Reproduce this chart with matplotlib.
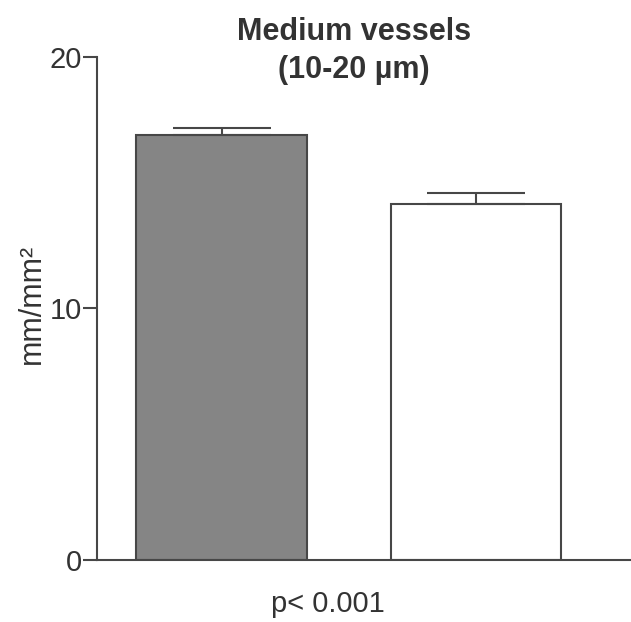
import matplotlib
matplotlib.use("Agg")
import matplotlib.pyplot as plt

# Data
groups = ["Group A", "Group B"]
means = [16.9, 14.15]
sem_upper = [0.28, 0.44]
bar_colors = ["#858585", "#ffffff"]
y_ticks = [0, 10, 20]
title_text = "Medium vessels\n(10-20 µm)"
y_label = "mm/mm²"
p_text = "p< 0.001"

plt.rcParams['font.family'] = ['Liberation Sans', 'DejaVu Sans']
text_col = '#333333'
line_col = '#474747'

fig = plt.figure(figsize=(6.31, 6.22), dpi=100)
ax = fig.add_axes([0.1537, 0.0997, 0.8463, 0.8087])

xpos = list(range(len(groups)))
ax.bar(xpos, means, width=0.67, color=bar_colors, edgecolor=line_col,
       linewidth=1.5, zorder=2)
ax.errorbar(xpos, means, yerr=[[0] * len(means), sem_upper], fmt='none',
            ecolor=line_col, elinewidth=1.5, capsize=35, capthick=1.5, zorder=3)

ax.set_xlim(-0.49, 1.61)
ax.set_ylim(0, 20)
ax.set_yticks(y_ticks)
ax.set_yticklabels([str(v) for v in y_ticks], fontsize=21, color=text_col)
ax.set_xticks([])

for side in ['top', 'right']:
    ax.spines[side].set_visible(False)
for side in ['left', 'bottom']:
    ax.spines[side].set_color(line_col)
    ax.spines[side].set_linewidth(1.5)
ax.tick_params(axis='y', direction='out', length=10, width=1.5, color=line_col, pad=1)

# labels / title as figure text
fig.text(0.051, 0.512, y_label, rotation=90, fontsize=22, color=text_col,
         ha='center', va='center')
fig.text(0.561, 0.918, title_text, fontsize=22, fontweight='bold', color=text_col,
         ha='center', va='center', linespacing=1.35)
fig.text(0.52, 0.029, p_text, fontsize=21, color=text_col, ha='center', va='center')

fig.savefig("out.png", dpi=100)
plt.close(fig)
